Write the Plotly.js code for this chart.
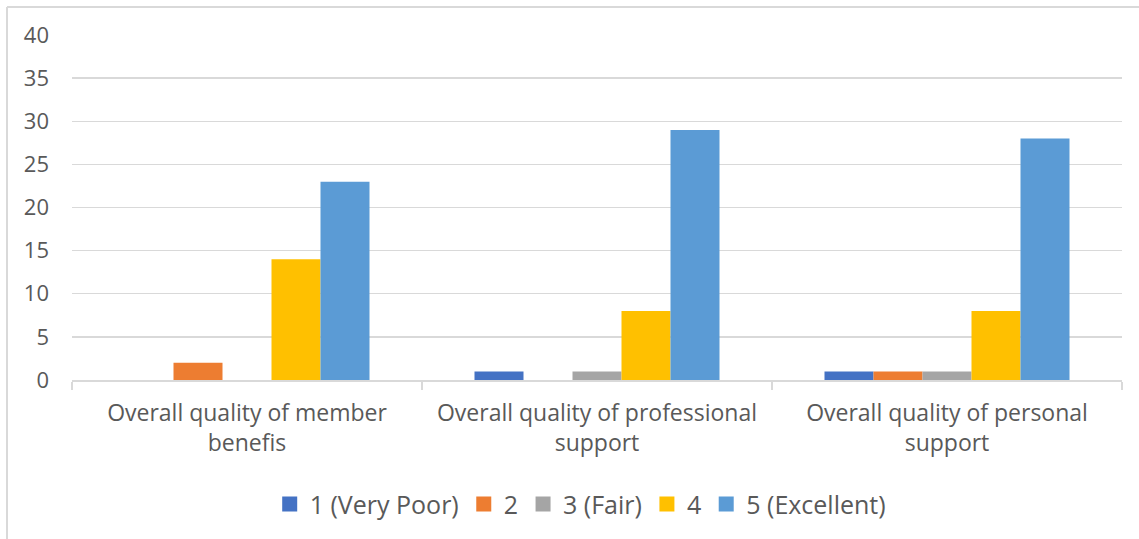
<!DOCTYPE html>
<html><head><meta charset="utf-8">
<script src="https://cdn.plot.ly/plotly-3.0.1.min.js"></script>
<style>html,body{margin:0;padding:0;background:#fff;}#chart{width:1139px;height:539px;}</style>
</head><body><div id="chart"></div>
<script>
const categories = ["Overall quality of member<br>benefis", "Overall quality of professional<br>support", "Overall quality of personal<br>support"];
const seriesNames = ["1 (Very Poor)", "2", "3 (Fair)", "4", "5 (Excellent)"];
const veryPoor = [0, 1, 1];
const two = [2, 0, 1];
const fair = [0, 1, 1];
const four = [14, 8, 8];
const excellent = [23, 29, 28];
const yTicks = [0, 5, 10, 15, 20, 25, 30, 35, 40];
const colors = ["#4472C4", "#ED7D31", "#A5A5A5", "#FFC000", "#5B9BD5"];
const values = [veryPoor, two, fair, four, excellent];

const barTraces = seriesNames.map((n, i) => ({
  type: 'bar', name: n, x: categories, y: values[i],
  marker: {color: colors[i]}, showlegend: false, legendgroup: 'g' + i
}));
// legend-only entries with larger square swatches
const legendTraces = seriesNames.map((n, i) => ({
  type: 'scatter', mode: 'markers', name: n, x: [categories[0]], y: [null],
  marker: {color: colors[i], symbol: 'square', size: 15}, showlegend: true, legendgroup: 'g' + i
}));

const font = "Open Sans, Liberation Sans, sans-serif";
const layout = {
  width: 1139, height: 539,
  margin: {l: 72, r: 17, t: 35, b: 159},
  paper_bgcolor: '#fff', plot_bgcolor: '#fff',
  barmode: 'group', bargap: 0.3, bargroupgap: 0,
  font: {family: font, color: '#595959'},
  showlegend: true,
  legend: {orientation: 'h', x: 0.484, xanchor: 'center', y: -0.36, yanchor: 'middle',
           font: {size: 25, color: '#595959'}, itemwidth: 30, tracegroupgap: 0,
           traceorder: 'normal'},
  xaxis: {
    showline: true, linecolor: '#d9d9d9', linewidth: 1.5,
    ticks: 'outside', tickson: 'boundaries', ticklen: 8, tickcolor: '#d9d9d9', tickwidth: 1.5,
    ticklabelstandoff: 12,
    tickfont: {size: 23, color: '#595959'}, showgrid: false, fixedrange: true
  },
  yaxis: {
    range: [0, 40], tickvals: yTicks, ticktext: yTicks.map(String),
    showgrid: true, gridcolor: '#d9d9d9', gridwidth: 1.3, zeroline: false,
    showline: false, ticks: '', ticklabelstandoff: 22,
    tickfont: {size: 22, color: '#595959'}
  },
  shapes: [
    {type: 'line', xref: 'paper', yref: 'paper', x0: (7 - 72) / 1050, x1: (7 - 72) / 1050,
     y0: (539 - 159 - 7) / 345, y1: -2, line: {color: '#d9d9d9', width: 2}},
    {type: 'line', xref: 'paper', yref: 'paper', x0: (7 - 72) / 1050, x1: 2,
     y0: (380 - 7) / 345, y1: (380 - 7) / 345, line: {color: '#d9d9d9', width: 2}}
  ]
};
Plotly.newPlot('chart', barTraces.concat(legendTraces), layout, {displayModeBar: false, staticPlot: true});
</script></body></html>
